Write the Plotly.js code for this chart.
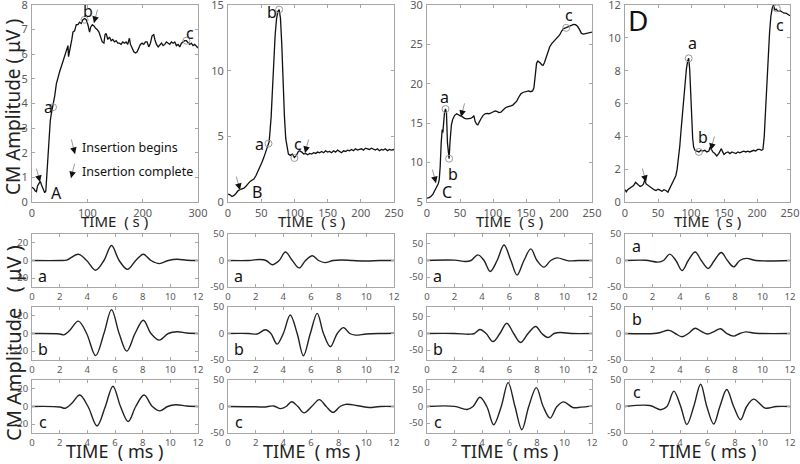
<!DOCTYPE html>
<html><head><meta charset="utf-8">
<script src="https://cdn.plot.ly/plotly-3.0.1.min.js"></script>
<style>html,body{margin:0;padding:0;background:#fff}</style>
</head><body><div id="chart" style="width:800px;height:464px"></div>
<script>
// ---------- Top panels: CM amplitude vs time (s) ----------
const cmA_t = [0,3,6,8,10,13,15,17,20,23,25,27,29,31,33,35,38,41,44,47,50,53,56,59,62,65,66,68,70,72,74,77,80,83,86,89,92,95,98,101,104,106,109,112,115,118,121,124,127,130,132,134,137,140,143,146,149,152,155,158,161,164,167,170,173,176,178,181,184,187,190,193,196,199,202,205,208,211,214,217,220,222,225,228,231,234,237,240,243,246,249,252,255,258,261,264,267,270,273,276,279,282,285,288,291,294,297,300];
const cmA_v = [0.6,0.55,0.45,0.42,0.65,0.75,0.85,0.7,0.55,0.38,0.45,1.2,2.2,2.9,3.3,3.6,3.9,4.3,4.8,5.1,5.3,5.5,5.7,5.9,6.1,6.35,5.9,6.1,6.4,6.6,6.9,6.95,7.2,7.2,7.3,7.25,7.4,7.45,7.4,7.2,6.9,7.1,7.2,7.15,7.05,7.0,6.9,6.7,6.5,6.45,6.8,6.85,6.6,6.7,6.55,6.6,6.5,6.55,6.45,6.45,6.4,6.5,6.45,6.5,6.4,6.65,6.4,6.25,6.1,6.05,6.1,6.25,6.4,6.45,6.4,6.5,6.5,6.3,6.45,6.75,6.8,6.6,6.4,6.3,6.4,6.45,6.35,6.4,6.5,6.45,6.4,6.5,6.45,6.5,6.35,6.4,6.3,6.45,6.5,6.55,6.55,6.45,6.4,6.45,6.35,6.4,6.3,6.25];

const cmB_t = [0,3,6,9,12,15,18,21,24,27,30,33,36,39,42,45,48,51,54,57,60,62,63,65,67,69,71,73,75,77,79,81,83,85,87,89,91,94,97,100,103,106,108,111,114,117,120,123,126,129,132,135,138,141,144,147,150,153,156,159,162,165,168,171,174,177,180,183,186,189,192,195,198,201,204,207,210,213,216,219,222,225,228,231,234,237,240,243,246,250];
const cmB_v = [0.6,0.55,0.42,0.5,0.65,0.85,0.95,1.0,1.05,1.2,1.4,1.55,1.65,1.75,2.0,2.3,2.6,3.0,3.4,3.9,4.3,4.6,5.2,6.5,8.6,10.8,12.7,13.9,14.5,14.65,14.0,12.0,9.0,6.5,4.8,4.0,3.65,3.55,3.65,3.4,3.55,3.85,3.9,3.8,3.65,3.7,3.6,3.7,3.65,3.75,3.7,3.8,3.75,3.85,3.75,3.9,3.8,3.85,3.75,3.9,3.8,3.95,3.85,3.75,3.9,3.85,3.95,3.9,4.0,3.9,4.05,3.95,4.0,4.05,3.95,4.1,4.05,4.0,4.1,4.0,3.95,4.05,3.9,4.0,3.95,4.05,3.9,4.0,3.95,4.0];

const cmC_t = [0,3,6,9,12,15,17,18.5,20,21.5,23,24,25,26.5,28,29.5,31,32.5,33.5,35,37,39,42,45,48,51,54,57,60,63,66,69,71,73,75,77,79,82,85,88,91,94,97,100,103,106,109,112,115,118,121,124,127,130,133,136,139,142,145,148,151,154,157,160,162,164,166,168,170,172,174,176,178,180,183,186,189,192,195,198,201,204,207,210,213,216,219,222,225,228,231,234,237,240,244,247,250];
const cmC_v = [5.5,5.55,5.7,6.0,6.5,7.0,7.3,7.8,9.5,12.5,14.2,13.8,15.0,16.3,16.8,16.3,12.5,10.6,10.5,12.8,14.8,15.5,16.0,16.2,16.0,15.9,15.8,15.6,15.55,15.6,15.6,15.75,15.95,15.2,14.9,14.8,15.2,15.6,16.0,16.2,16.25,16.2,16.3,16.4,16.55,16.5,16.35,16.4,16.7,16.9,17.05,17.1,17.2,17.3,17.5,17.8,18.3,18.7,18.9,18.95,19.0,19.1,19.0,19.1,19.5,21.0,22.6,22.9,22.8,22.6,22.4,22.35,22.7,23.2,24.1,24.7,25.1,25.4,25.7,25.9,26.2,26.7,27.0,27.1,27.2,27.35,27.5,27.55,27.5,27.3,26.9,26.4,26.3,26.35,26.45,26.5,26.55];

const cmD_t = [0,2,4,7,10,13,16,18,20,23,26,28,30,32,35,38,41,44,47,50,53,56,59,62,65,68,71,74,77,79,81,83,85,87,89,91,93,95,96.5,98,99.5,101,102.5,104,106,109,112,115,118,121,124,127,129,131,133,136,139,142,144,146,148,150,153,156,159,162,165,168,171,174,177,180,183,186,189,192,195,198,201,204,207,209,211,213,215,217,219,221,223,225,227,229,232,235,238,241,244,247,250];
const cmD_v = [0.75,0.62,0.75,0.85,0.9,1.0,1.2,1.1,1.05,0.95,1.0,1.1,1.35,1.1,1.0,0.9,0.8,0.75,0.7,0.78,0.72,0.65,0.75,0.7,0.6,0.85,1.1,1.35,1.6,2.0,2.6,3.4,4.4,5.4,6.4,7.3,8.1,8.6,8.75,8.1,6.6,5.0,3.9,3.35,3.15,3.1,3.05,3.15,3.1,3.15,3.05,3.1,3.35,3.2,3.05,2.95,2.8,2.95,3.1,3.25,3.05,2.9,3.0,3.05,2.95,3.05,3.0,2.95,3.05,3.0,3.05,3.1,3.05,3.1,3.05,3.1,3.15,3.1,3.2,3.2,3.15,3.2,4.0,5.6,7.3,8.9,10.3,11.3,11.8,12.0,11.7,11.75,11.6,11.65,11.55,11.5,11.5,11.4,11.35];

// marked points a, b, c on each top panel
const markA_t = [38, 95, 279], markA_v = [3.85, 7.4, 6.55];
const markB_t = [61, 77, 100], markB_v = [4.45, 14.65, 3.35];
const markC_t = [28, 33.5, 211], markC_v = [16.8, 10.5, 27.1];
const markD_t = [96.5, 112, 230], markD_v = [8.75, 3.05, 11.8];

// ---------- Bottom panels: CM waveforms (ms) ----------
const waveAa_t = [0,2,2.5,3.35,3.95,4.6,5.2,5.75,6.3,6.9,7.5,8.05,8.6,9.2,9.85,10.5,11.2,12];
const waveAa_v = [0,0,0.5,7,0,-11,0,17,0,-10,0,7,0,-3.5,0,1.5,0.3,0];
const waveAb_t = [0,2,2.3,2.7,3.35,3.95,4.6,5.2,5.75,6.3,6.85,7.45,8.05,8.6,9.2,9.85,10.5,11.2,12];
const waveAb_v = [0,-0.5,-1.5,3,14,0,-25,0,27,0,-20,0,15,0,-7.5,0,2,0.5,0];
const waveAc_t = [0,2,2.4,2.9,3.45,4.05,4.7,5.3,5.85,6.4,6.95,7.5,8.1,8.7,9.25,9.8,10.4,11.2,12];
const waveAc_v = [0,-0.5,-2,4,13,0,-22,0,23,0,-17,0,13,0,-5,0,2,0.5,0];

const waveBa_t = [0,1.5,2.3,2.75,3.2,3.7,4.15,4.65,5.15,5.6,6.1,6.55,7.0,7.6,8.2,9,10,11,12];
const waveBa_v = [0,0,2,0,-8,0,16,0,-14,0,9,0,-4,0,1,0,-1,0,0];
const waveBb_t = [0,1.5,2.1,2.7,3.1,3.55,4.0,4.5,5.0,5.45,5.95,6.45,6.9,7.4,7.9,8.35,8.8,9.2,10,11,12];
const waveBb_v = [0,0,-1,7,0,-20,0,35,0,-42,0,38,0,-25,0,11,0,-3,-1,0,0.5];
const waveBc_t = [0,2,2.6,3.3,3.8,4.2,4.6,5.05,5.5,6.05,6.6,7.1,7.6,8.1,8.5,9.5,10.2,11,12];
const waveBc_v = [0,-0.5,-1,1,-4,0,9,0,-12,0,13,0,-11,0,4,1,-2,0,0];

const waveCa_t = [0,2,2.8,3.2,3.7,4.15,4.6,5.1,5.6,6.1,6.55,7.05,7.55,8.0,8.5,9.0,9.45,10.3,11,12];
const waveCa_v = [0,1,-3,0,17,0,-33,0,47,0,-44,0,35,0,-20,0,8,-1,0,0];
const waveCb_t = [0,2,3.1,3.45,3.85,4.3,4.8,5.3,5.8,6.3,6.8,7.35,7.9,8.35,8.8,9.25,9.7,10.5,12];
const waveCb_v = [0,0,-2,0,12,0,-24,0,31,0,-27,0,21,0,-12,0,3,0,0];
const waveCc_t = [0,2,2.9,3.35,3.85,4.35,4.85,5.4,5.9,6.4,6.9,7.4,7.95,8.45,8.95,9.45,9.95,10.6,11.2,12];
const waveCc_v = [0,0.5,-9,0,28,0,-55,0,72,0,-70,0,57,0,-35,0,14,-3,-2,1];

const waveDa_t = [0,1.5,2.4,2.8,3.25,3.7,4.15,4.6,5.1,5.55,6.05,6.5,7.0,7.45,7.9,8.35,8.85,9.5,12];
const waveDa_v = [0,0.5,-3,0,12,0,-19,0,16,0,-15,0,15,0,-12,0,4,0,0];
const waveDb_t = [0,2.3,3.2,3.65,4.15,4.6,5.1,5.55,6.0,6.5,6.95,7.4,7.9,8.35,8.8,9.5,12];
const waveDb_v = [0,0.5,6,0,-6,0,10,4,-1,4,9,0,-5,0,3,0.5,0];
const waveDc_t = [0,1.8,2.6,3.05,3.55,4.05,4.5,5.0,5.5,5.95,6.45,6.9,7.4,7.9,8.4,8.85,9.35,10.2,11,12];
const waveDc_v = [0,2,-6,0,29,0,-34,0,42,0,-33,0,32,0,-25,0,14,-3,0,0];

// tick labels
const topXTicksA = [0,100,200,300];
const topXTicks = [0,50,100,150,200,250];
const topYTicksA = [0,1,2,3,4,5,6,7,8];
const topYTicksB = [0,5,10,15];
const topYTicksC = [5,10,15,20,25,30];
const topYTicksD = [0,2,4,6,8,10,12];
const botXTicks = [0,2,4,6,8,10,12];
const botYTicksA = [-20,0,20];
const botYTicks = [-50,0,50];
const panelLetters = ['A','B','C','D'];
const rowLetters = ['a','b','c'];

// insertion arrows [x, y] for each top panel (begins, complete)
const arrBegin = [[14.5,0.81],[18,0.91],[13.6,7.4],[31.8,1.22]];
const arrComplete = [[112,7.27],[116,3.73],[51.5,15.8],[130,3.17]];

// ---------- layout geometry ----------
const W = 800, H = 464;
const colPx = [[32,198],[228,394],[427,592],[625,790]];
const topPx = [5,202];
const rowPx = [[234,287],[307,360],[380,433]];
const xd = p => [p[0]/W, p[1]/W];
const yd = p => [1-p[1]/H, 1-p[0]/H];

const FONT = 'Noto Sans, Open Sans, sans-serif';
function axisBase(domain, range, tickvals, fs, anchor){
  return {domain: domain, range: range, tickvals: tickvals, ticktext: tickvals.map(String),
    showline:true, mirror:'ticks', linecolor:'#a6a6a6', linewidth:1,
    ticks:'inside', ticklen:3, tickcolor:'#a6a6a6', tickwidth:1,
    tickfont:{size:fs, color:'#5a5a5a', family:FONT}, ticklabeloverflow:'allow',
    showgrid:false, zeroline:false, anchor:anchor, fixedrange:true, ticklabelstandoff:1};
}

const layout = {width:W, height:H, margin:{l:0,r:0,t:0,b:0}, showlegend:false,
  paper_bgcolor:'#fff', plot_bgcolor:'#fff', font:{family:FONT}, annotations:[]};
const data = [];

const topT = [cmA_t, cmB_t, cmC_t, cmD_t];
const topV = [cmA_v, cmB_v, cmC_v, cmD_v];
const markT = [markA_t, markB_t, markC_t, markD_t];
const markV = [markA_v, markB_v, markC_v, markD_v];
const topXR = [[0,300],[0,250],[0,250],[0,250]];
const topYR = [[0,8],[0,15],[5,30],[0,12]];
const topXT = [topXTicksA, topXTicks, topXTicks, topXTicks];
const topYT = [topYTicksA, topYTicksB, topYTicksC, topYTicksD];

// top panel label positions (data coords): a, b, c, panel letter
const lblPos = [
  [[29,3.86],[101,7.75],[286,6.86],[45,0.36]],
  [[48,4.4],[66,14.5],[105,4.4],[44,0.76]],
  [[27,18.3],[39,8.55],[215,28.7],[30,6.3]],
  [[103,9.7],[118,3.96],[235,10.8],[20,11.1]]
];

for (let i=0;i<4;i++){
  const n = i+1, xs = n===1?'':String(n);
  layout['xaxis'+xs] = axisBase(xd(colPx[i]), topXR[i], topXT[i], 11, 'y'+xs);
  layout['yaxis'+xs] = axisBase(yd(topPx), topYR[i], topYT[i], 11, 'x'+xs);
  data.push({x:topT[i], y:topV[i], xaxis:'x'+xs, yaxis:'y'+xs, mode:'lines',
    line:{color:'#111', width:1.3}, hoverinfo:'skip'});
  data.push({x:markT[i], y:markV[i], xaxis:'x'+xs, yaxis:'y'+xs, mode:'markers',
    marker:{symbol:'circle-open', size:7, color:'#9a9a9a', line:{width:1}}, hoverinfo:'skip'});
  ['a','b','c'].forEach((t,k)=>{
    layout.annotations.push({x:lblPos[i][k][0], y:lblPos[i][k][1], xref:'x'+xs, yref:'y'+xs,
      text:t, showarrow:false, font:{size:16, color:'#111', family:FONT}});
  });
  layout.annotations.push({x:lblPos[i][3][0], y:lblPos[i][3][1], xref:'x'+xs, yref:'y'+xs,
    text:panelLetters[i], showarrow:false, font:{size: i===3?28:16, color:'#111', family:FONT}});
  // insertion arrows
  [[arrBegin[i],-4],[arrComplete[i],4]].forEach(([p,dx])=>{
    layout.annotations.push({x:p[0], y:p[1], xref:'x'+xs, yref:'y'+xs, text:'', showarrow:true,
      ax:dx, ay:-15, arrowhead:0, arrowwidth:1, arrowcolor:'#9a9a9a', standoff:0});
    layout.annotations.push({x:p[0], y:p[1], xref:'x'+xs, yref:'y'+xs, text:'', showarrow:true,
      ax:dx*0.35, ay:-5.5, arrowhead:2, arrowsize:1.1, arrowwidth:1.2, arrowcolor:'#111', standoff:0});
  });
  layout.annotations.push({x:(colPx[i][0]+colPx[i][1])/2/W, y:1-221/H, xref:'paper', yref:'paper',
    text:'TIME\u00a0\u00a0( s )', showarrow:false, font:{size:15, color:'#222', family:FONT}});
  layout.annotations.push({x:(colPx[i][0]+colPx[i][1])/2/W, y:1-451/H, xref:'paper', yref:'paper',
    text:'TIME\u00a0\u00a0( ms )', showarrow:false, font:{size:18, color:'#222', family:FONT}});
}

// legend for arrows in panel A
const legArrows = [[[77.7,1.95],-4,'Insertion begins',2.2],[[70.5,0.97],4,'Insertion complete',1.25]];
legArrows.forEach(([p,dx,txt,ty])=>{
  layout.annotations.push({x:p[0], y:p[1], xref:'x', yref:'y', text:'', showarrow:true,
    ax:dx, ay:-16, arrowhead:0, arrowwidth:1, arrowcolor:'#9a9a9a', standoff:0});
  layout.annotations.push({x:p[0], y:p[1], xref:'x', yref:'y', text:'', showarrow:true,
    ax:dx*0.35, ay:-5.5, arrowhead:2, arrowsize:1.1, arrowwidth:1.2, arrowcolor:'#111', standoff:0});
  layout.annotations.push({x:86, y:ty, xref:'x', yref:'y', text:txt, showarrow:false, xanchor:'left',
    font:{size:12.5, color:'#111', family:FONT}});
});

const waves = [
  [[waveAa_t,waveAa_v],[waveAb_t,waveAb_v],[waveAc_t,waveAc_v]],
  [[waveBa_t,waveBa_v],[waveBb_t,waveBb_v],[waveBc_t,waveBc_v]],
  [[waveCa_t,waveCa_v],[waveCb_t,waveCb_v],[waveCc_t,waveCc_v]],
  [[waveDa_t,waveDa_v],[waveDb_t,waveDb_v],[waveDc_t,waveDc_v]]
];
const botYR = [[-30,30],[-50,50],[-80,80],[-50,50]];
const botYT = [botYTicksA, botYTicks, botYTicks, botYTicks];

for (let r=0;r<3;r++){
  for (let i=0;i<4;i++){
    const n = 5 + r*4 + i, xs = String(n);
    layout['xaxis'+xs] = axisBase(xd(colPx[i]), [0,12], botXTicks, 9.5, 'y'+xs);
    layout['yaxis'+xs] = axisBase(yd(rowPx[r]), botYR[i], botYT[i], 9.5, 'x'+xs);
    data.push({x:waves[i][r][0], y:waves[i][r][1], xaxis:'x'+xs, yaxis:'y'+xs, mode:'lines',
      line:{color:'#222', width:1.4, shape:'spline', smoothing:1}, hoverinfo:'skip'});
    const upper = (i===3);
    layout.annotations.push({x: upper?0.07:0.065, y: upper?0.77:0.2, xref:'x'+xs+' domain', yref:'y'+xs+' domain',
      text:rowLetters[r], showarrow:false, font:{size:16, color:'#111', family:FONT}});
  }
}

// y-axis titles
layout.annotations.push({x:13/W, y:1-107/H, xref:'paper', yref:'paper', textangle:-90,
  text:'CM Amplitude ( μV )', showarrow:false, font:{size:19, color:'#222', family:FONT}});
layout.annotations.push({x:13/W, y:1-343/H, xref:'paper', yref:'paper', textangle:-90,
  text:'CM Amplitude\u00a0\u00a0\u00a0( μV )', showarrow:false, font:{size:20, color:'#222', family:FONT}});

layout.annotations.forEach(a=>{
  if (!a.xanchor) a.xanchor = 'center';
  if (!a.yanchor) a.yanchor = 'middle';
});

Plotly.newPlot('chart', data, layout, {staticPlot:true, displayModeBar:false});
</script></body></html>
